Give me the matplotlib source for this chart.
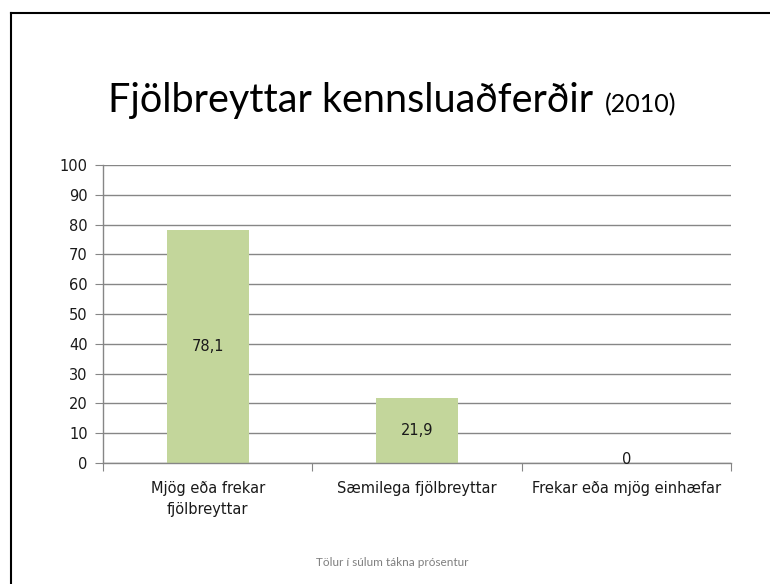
import matplotlib.pyplot as plt
from matplotlib.lines import Line2D

categories = ['Mjög eða frekar\nfjölbreyttar', 'Sæmilega fjölbreyttar', 'Frekar eða mjög einhæfar']
values = [78.1, 21.9, 0]
value_labels = ['78,1', '21,9', '0']
yticks = list(range(0, 101, 10))

plt.rcParams['font.family'] = ['Lato', 'DejaVu Sans']
lab_font = ['DejaVu Sans']

fig = plt.figure(figsize=(7.7, 5.84), dpi=100)
ax = fig.add_axes([0.1338, 0.2072, 0.8156, 0.5103])

x = range(len(categories))
bars = ax.bar(x, values, width=0.39, color='#c3d69b', zorder=2)

for i, (v, lab) in enumerate(zip(values, value_labels)):
    if v > 0:
        ax.text(i, v / 2, lab, ha='center', va='center', fontsize=10.5,
                family=lab_font, color='#1a1a1a', zorder=3)
    else:
        ax.text(i, 1.2, lab, ha='center', va='center', fontsize=10.5,
                family=lab_font, color='#1a1a1a', zorder=3)

ax.set_xlim(-0.5, 2.5)
ax.set_ylim(0, 100)
ax.set_yticks(yticks)
ax.set_yticklabels([str(t) for t in yticks], family=lab_font, fontsize=10.5, color='#1a1a1a')
ax.yaxis.grid(True, color='#868686', linewidth=1.0, zorder=0)
ax.set_axisbelow(True)
ax.set_xticks([-0.5, 0.5, 1.5, 2.5], minor=False)
ax.set_xticklabels([])
ax.set_xticks(list(x), minor=True)
ax.set_xticklabels(categories, minor=True, fontsize=10.5, family=lab_font,
                   color='#1a1a1a', linespacing=1.5)
ax.tick_params(axis='x', which='minor', length=0, pad=13)
ax.tick_params(axis='x', which='major', length=6, color='#868686', direction='out')
ax.tick_params(axis='y', length=6, color='#868686', pad=5)

for s in ['top', 'right']:
    ax.spines[s].set_visible(False)
for s in ['left', 'bottom']:
    ax.spines[s].set_color('#868686')
    ax.spines[s].set_linewidth(1.0)

fig.text(0.140, 0.808, 'Fjölbreyttar kennsluaðferðir', fontsize=28.5, ha='left', va='baseline', color='black')
fig.text(0.785, 0.808, '(2010)', fontsize=18, ha='left', va='baseline', color='black')

fig.text(0.51, 0.036, 'Tölur í súlum tákna prósentur', fontsize=8.5, ha='center', va='center', color='#7f7f7f')

# frame lines (top and left)
fig.add_artist(Line2D([0.014, 1.0], [0.977, 0.977], transform=fig.transFigure, color='black', linewidth=1.5))
fig.add_artist(Line2D([0.014, 0.014], [0.0, 0.977], transform=fig.transFigure, color='black', linewidth=1.5))

fig.savefig('out.png', dpi=100)
